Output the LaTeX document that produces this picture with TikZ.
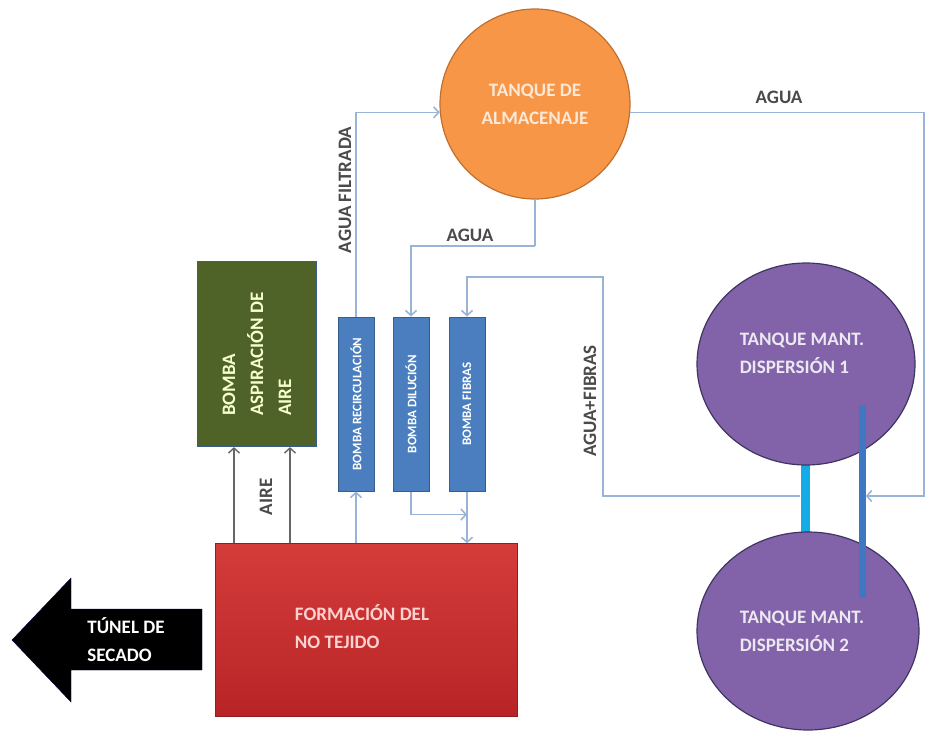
\documentclass[tikz,border=0pt]{standalone}
\usepackage{fontspec}
\setmainfont{Carlito}
\usetikzlibrary{arrows.meta,shapes.geometric,positioning}

\definecolor{naranja}{HTML}{F79646}
\definecolor{naranjaborde}{HTML}{C0702E}
\definecolor{morado}{HTML}{8262A8}
\definecolor{moradoborde}{HTML}{3F3563}
\definecolor{verde}{HTML}{4F6228}
\definecolor{azulbomba}{HTML}{4A7EBF}
\definecolor{azulborde}{HTML}{385D8A}
\definecolor{linea}{HTML}{9AB4D8}
\definecolor{celeste}{HTML}{14ACE8}
\definecolor{azulbarra}{HTML}{3F78C0}
\definecolor{gristexto}{HTML}{4A4A4A}
\definecolor{rojoarriba}{RGB}{212,60,58}
\definecolor{rojoabajo}{RGB}{184,36,38}

\tikzset{
  conector/.style={draw=linea, line width=1.6pt},
  flecha/.style={conector, -{Straight Barb[length=5pt,width=11pt]}},
  flechaaire/.style={draw=gray!80!black, line width=1.4pt, -{Straight Barb[length=5pt,width=11pt]}},
  bomba/.style={rectangle, draw=azulborde, line width=1pt, fill=azulbomba, text=white,
    minimum width=36pt, minimum height=174pt, inner sep=0pt},
  textobomba/.style={rotate=90, text=white, font=\bfseries\fontsize{13}{15}\selectfont},
  etiqueta/.style={text=gristexto, inner sep=1pt},
  tanque/.style={ellipse, fill=morado, draw=moradoborde, line width=1.2pt},
  textotanque/.style={text=white!85!morado, align=left}
}

\begin{document}
\begin{tikzpicture}[x=1pt,y=-1pt,font=\bfseries\fontsize{19}{28}\selectfont]
  \useasboundingbox (0,0) rectangle (936,733);

  % Tanque de almacenaje
  \node[circle, fill=naranja, draw=naranjaborde, line width=1.2pt, minimum size=190pt,
    text=white!78!naranja, align=center] (almacen) at (535,104) {TANQUE DE\\ALMACENAJE};

  % Bombas (centro y = 404)
  \node[bomba] (recirc) at (356,404) {};
  \node[bomba] (dilucion) at (411,404) {};
  \node[bomba] (fibras) at (467,404) {};
  \node[textobomba] (trecirc) at (recirc) {BOMBA RECIRCULACIÓN};
  \node[textobomba] (tdilucion) at (dilucion) {BOMBA DILUCIÓN};
  \node[textobomba] (tfibras) at (fibras) {BOMBA FIBRAS};

  % Bomba aspiracion de aire
  \node[rectangle, fill=verde, draw=azulborde, line width=1.2pt, minimum width=119pt,
    minimum height=185pt] (aire) at (257,354) {};
  \node[rotate=90, align=left, text=green!15!yellow!20!white] (taire) at (aire) {BOMBA\\ASPIRACIÓN DE\\AIRE};

  % Formacion del no tejido
  \node[rectangle, top color=rojoarriba, bottom color=rojoabajo, draw=rojoabajo!80!black,
    minimum width=302pt, minimum height=173pt] (formacion) at (366,630) {};
  \node[align=left, text=white!82!red] (tformacion) at ([xshift=-4pt,yshift=3pt]formacion.center) {FORMACIÓN DEL\\NO TEJIDO};

  % Tunel de secado (flecha negra)
  \fill[black, draw=blue!30!black] (202,609) -- (71,609) -- (71,578) -- (12,640)
    -- (71,702) -- (71,670) -- (202,670) -- cycle;
  \node[text=white, align=left] (secado) at (126,640) {TÚNEL DE\\SECADO};

  % Tanques de mantenimiento
  \node[rectangle, fill=celeste, minimum width=9pt, minimum height=72pt, inner sep=0pt] (barraC) at (805,498) {};
  \node[tanque, minimum width=218pt, minimum height=202pt] (disp1) at (806,364) {};
  \node[tanque, minimum width=222pt, minimum height=198pt] (disp2) at (808,631) {};
  \node[textotanque] (tdisp1) at ([xshift=-4pt,yshift=11pt]disp1.center) {TANQUE MANT.\\DISPERSIÓN 1};
  \node[textotanque] (tdisp2) at ([xshift=-6pt]disp2.center) {TANQUE MANT.\\DISPERSIÓN 2};
  \node[rectangle, fill=azulbarra, minimum width=7pt, minimum height=193pt, inner sep=0pt] (barraB) at (862,501) {};

  % Esquinas de los conectores
  \coordinate (esqD) at (924,496);
  \coordinate (esqA) at (535,246);
  \coordinate (esqF) at (603,277);
  \coordinate (aire1) at ([xshift=-23pt]aire.south);
  \coordinate (aire2) at ([xshift=33pt]aire.south);

  % Conectores de agua
  \draw[flecha] (recirc.north) |- (almacen.185);
  \draw[conector] (almacen.south) -- (esqA);
  \draw[flecha] (esqA) -| (dilucion.north);
  \draw[flecha] (almacen.-5) -| (esqD) -- (barraB.east |- esqD);
  \draw[flecha] (barraC.west |- esqD) -| (esqF) -| (fibras.north);
  \draw[flecha] (formacion.north -| recirc) -- (recirc.south);
  \draw[flecha] (dilucion.south) |- ([yshift=-23pt]fibras.south);
  \draw[flecha] (fibras.south) -- (formacion.north -| fibras);

  % Aire
  \draw[flechaaire] (formacion.north -| aire1) -- (aire1);
  \draw[flechaaire] (formacion.north -| aire2) -- (aire2);

  % Etiquetas
  \node[etiqueta] (lagua1) at (779,97) {AGUA};
  \node[etiqueta] (lagua2) at (470,235) {AGUA};
  \node[etiqueta, rotate=90] (lfiltrada) at (345,190) {AGUA FILTRADA};
  \node[etiqueta, rotate=90] (lfibras) at (590,401) {AGUA+FIBRAS};
  \node[etiqueta, rotate=90] (laire) at (266,497) {AIRE};
\end{tikzpicture}
\end{document}
